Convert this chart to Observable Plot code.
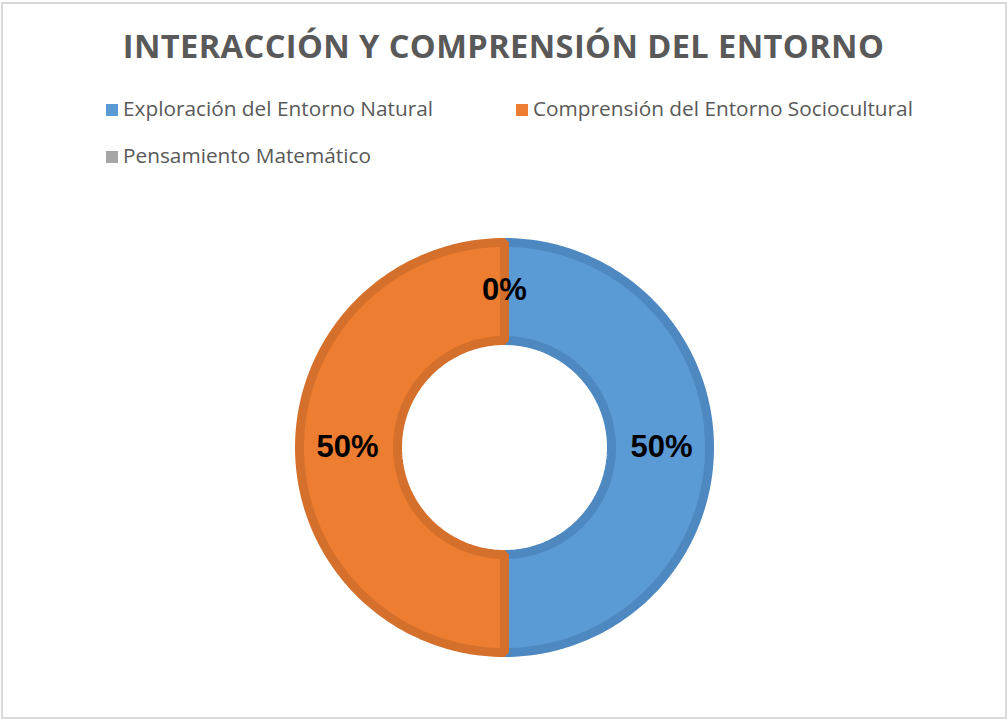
<!DOCTYPE html>
<html>
<head>
<meta charset="utf-8">
<script src="https://cdn.jsdelivr.net/npm/d3@7"></script>
<script src="https://cdn.jsdelivr.net/npm/@observablehq/plot@0.6"></script>
<style>
  html, body { margin: 0; padding: 0; background: #fff; }
  #frame { position: relative; width: 1007px; height: 719px; overflow: hidden; font-family: "Open Sans", sans-serif; }
  #border { position: absolute; left: 1px; top: 2px; width: 1002px; height: 713px; border: 2px solid #d9d9d9; }
  #title { position: absolute; left: 0; top: 23px; width: 1007px; text-align: center; font-size: 32.6px; font-weight: 700; color: #595959; letter-spacing: 0.4px; }
  .leg { position: absolute; font-size: 20.8px; color: #595959; white-space: nowrap; }
  .sw { position: absolute; width: 12px; height: 12px; }
  #chart { position: absolute; left: 0; top: 190px; }
</style>
</head>
<body>
<div id="frame">
  <div id="border"></div>
  <div id="title">INTERACCIÓN Y COMPRENSIÓN DEL ENTORNO</div>
  <div id="legend"></div>
  <div id="chart"></div>
</div>
<script>
const title = "INTERACCIÓN Y COMPRENSIÓN DEL ENTORNO";
const categories = ["Exploración del Entorno Natural", "Comprensión del Entorno Sociocultural", "Pensamiento Matemático"];
const values = [50, 50, 0];
const fills = ["#5B9BD5", "#ED7D31", "#A5A5A5"];
const strokes = ["#4E88C1", "#D5702C", "#959595"];

// Legend (HTML)
const legendPos = [[106, 100], [516, 100], [106, 147]];
const legend = document.getElementById("legend");
categories.forEach((c, i) => {
  const [lx, ly] = legendPos[i];
  const sw = document.createElement("div");
  sw.className = "sw";
  sw.style.left = lx + "px"; sw.style.top = (ly + 4) + "px"; sw.style.background = fills[i];
  legend.appendChild(sw);
  const t = document.createElement("div");
  t.className = "leg";
  t.style.left = (lx + 17) + "px"; t.style.top = (ly - 6) + "px";
  t.textContent = c;
  legend.appendChild(t);
});

// Donut geometry from data
const total = d3.sum(values);
const pie = d3.pie().sort(null).value(d => d.value);
const arcs = pie(categories.map((c, i) => ({category: c, value: values[i], i})));
const rOuter = 205, rInner = 107, rLabel = 157;

const polyPoints = [];
arcs.forEach(a => {
  if (a.endAngle - a.startAngle <= 0) return;
  const n = 120;
  for (let k = 0; k <= n; k++) {
    const t = a.startAngle + (a.endAngle - a.startAngle) * k / n;
    polyPoints.push({i: a.data.i, x: rOuter * Math.sin(t), y: rOuter * Math.cos(t)});
  }
  for (let k = n; k >= 0; k--) {
    const t = a.startAngle + (a.endAngle - a.startAngle) * k / n;
    polyPoints.push({i: a.data.i, x: rInner * Math.sin(t), y: rInner * Math.cos(t)});
  }
});

const labelData = arcs.map(a => {
  const m = (a.startAngle + a.endAngle) / 2;
  return {x: rLabel * Math.sin(m), y: rLabel * Math.cos(m), text: Math.round(a.data.value / total * 100) + "%"};
});

const sliceMarks = arcs.filter(a => a.endAngle > a.startAngle).map(a =>
  Plot.line(polyPoints.filter(p => p.i === a.data.i), {
    x: "x", y: "y", curve: "linear-closed",
    fill: fills[a.data.i], stroke: strokes[a.data.i], strokeWidth: 9, strokeLinejoin: "miter"
  })
);

const W = 1007, H = 520;
const cx = 504, cyTop = 257;
const plot = Plot.plot({
  width: W, height: H,
  margin: 0,
  x: {domain: [-cx, W - cx], axis: null},
  y: {domain: [-(H - cyTop), cyTop], axis: null},
  marks: [
    ...sliceMarks,
    Plot.text(labelData, {x: "x", y: "y", text: "text", fontSize: 31, fontWeight: "bold", fill: "#000", fontFamily: "Liberation Sans, Arial, sans-serif"})
  ]
});
document.getElementById("chart").appendChild(plot);
</script>
</body>
</html>
